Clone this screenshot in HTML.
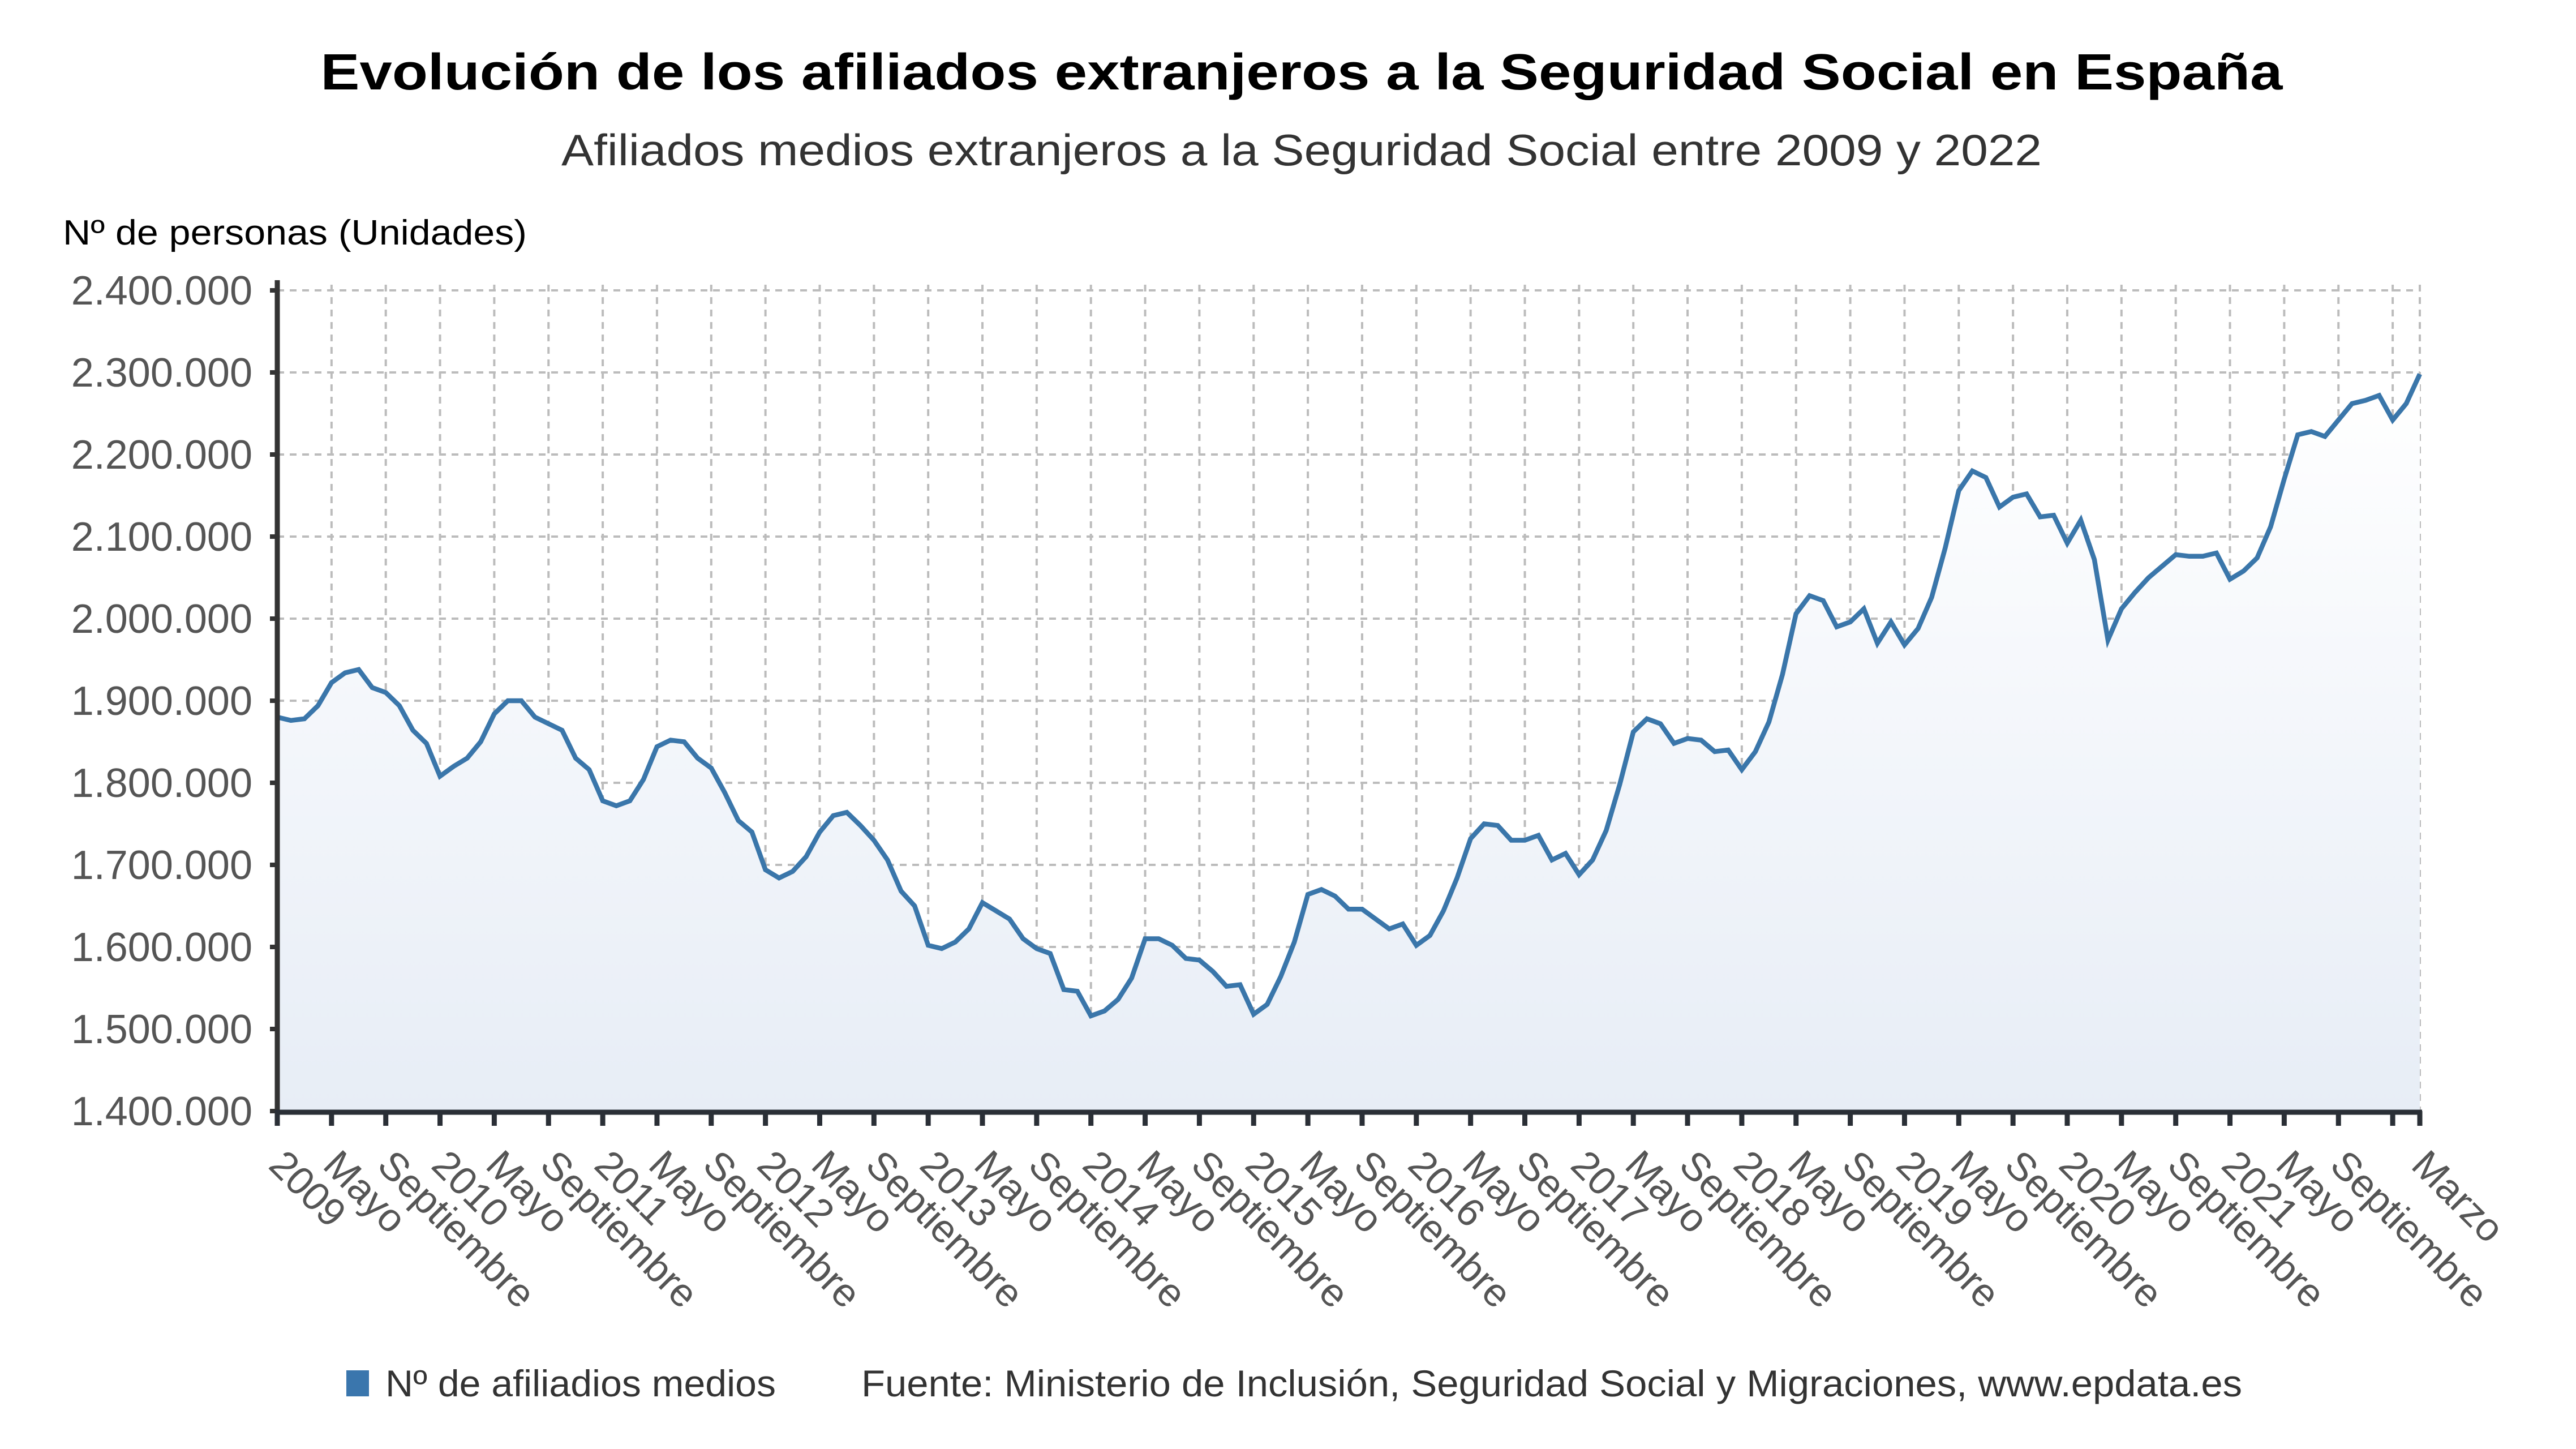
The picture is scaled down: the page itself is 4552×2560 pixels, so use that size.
<!DOCTYPE html>
<html><head><meta charset="utf-8"><style>
html,body{margin:0;padding:0;background:#fff;width:4552px;height:2560px;overflow:hidden}
svg{display:block}
</style></head><body>
<svg id="s" width="4552" height="2560" viewBox="0 0 4552 2560" xmlns="http://www.w3.org/2000/svg" font-family="'Liberation Sans', sans-serif">
<defs><linearGradient id="g" x1="0" y1="0" x2="0" y2="1"><stop offset="0" stop-color="#ffffff"/><stop offset="1" stop-color="#e7edf6"/></linearGradient></defs>
<text x="2300" y="158" text-anchor="middle" font-size="90" font-weight="bold" fill="#000" textLength="3467" lengthAdjust="spacingAndGlyphs">Evolución de los afiliados extranjeros a la Seguridad Social en España</text>
<text x="2300" y="292" text-anchor="middle" font-size="78" fill="#333" textLength="2616" lengthAdjust="spacingAndGlyphs">Afiliados medios extranjeros a la Seguridad Social entre 2009 y 2022</text>
<text x="111" y="432" font-size="62" fill="#000" textLength="820" lengthAdjust="spacingAndGlyphs">Nº de personas (Unidades)</text>
<g id="grid"></g>
<path id="area" fill="url(#g)"/>
<path id="line" fill="none" stroke="#3a76aa" stroke-width="8.5" stroke-linejoin="miter"/>
<g id="axes"></g>
<rect x="612" y="2421" width="40" height="46" fill="#3a76ad"/>
<text x="681" y="2467" font-size="66" fill="#333" textLength="690" lengthAdjust="spacingAndGlyphs">Nº de afiliadios medios</text>
<text x="1522" y="2467" font-size="66" fill="#333" textLength="2440" lengthAdjust="spacingAndGlyphs">Fuente: Ministerio de Inclusión, Seguridad Social y Migraciones, www.epdata.es</text>
</svg>
<script>
var d=[437,439,438,430,416,410,408,419,422,430,445,453,
473,467,462,452,435,427,427,437,441,445,462,469,
488,491,488,475,455,451,452,462,468,483,500,507,
530,535,531,522,507,497,495,503,512,524,543,552,
576,578,574,566,550,555,560,572,578,581,603,604,
619,616,609,596,572,572,576,584,585,592,601,600,
618,612,595,574,545,542,546,554,554,560,566,563,
576,570,555,535,511,502,503,512,512,509,524,520,
533,524,506,478,446,438,441,453,450,451,458,457,
469,458,440,411,374,363,366,382,379,371,392,379,
393,383,364,334,299,287,291,309,303,301,315,314,
331,317,341,390,371,361,352,345,338,339,339,337,
353,348,340,321,292,265,263,266,256,246,244,241,
256,246,228];
var X0=490,X1=4276,Y0=513,Y1=1963,n=d.length,dx=(X1-X0)/(n-1);
function X(i){return X0+i*dx}
function Y(v){return Y0+(v-177)*2.9}
var ns="http://www.w3.org/2000/svg";
function el(t,a,p,txt){var e=document.createElementNS(ns,t);for(var k in a)e.setAttribute(k,a[k]);if(txt)e.textContent=txt;p.appendChild(e);return e}
var g=document.getElementById('grid'),ax=document.getElementById('axes');
var pts=[];for(var i=0;i<n;i++)pts.push(X(i).toFixed(1)+','+Y(d[i]).toFixed(1));
document.getElementById('line').setAttribute('d','M'+pts.join('L'));
document.getElementById('area').setAttribute('d','M'+X0+','+Y1+'L'+pts.join('L')+'L'+X1+','+Y1+'Z');
var labs=['2009','2010','2011','2012','2013','2014','2015','2016','2017','2018','2019','2020','2021','2022'];
for(var k=0;k<=10;k++){
 var yy=Y0+k*145;
 el('line',{x1:X0,y1:yy,x2:X1,y2:yy,stroke:'#bcbcbc','stroke-width':4,'stroke-dasharray':'12,10'},g);
 var v=2400-k*100;var s=(v/1000|0)+'.'+String(v%1000).padStart(3,'0')+'.000';
 el('text',{x:446,y:yy+25,'text-anchor':'end','font-size':72,fill:'#555'},ax,s);
 el('line',{x1:477,y1:yy,x2:X0,y2:yy,stroke:'#333','stroke-width':8},ax);
}
for(var i=0;i<n;i+=4){
 el('line',{x1:X(i),y1:Y0-10,x2:X(i),y2:Y1,stroke:'#bcbcbc','stroke-width':4,'stroke-dasharray':'12,10'},g);
}
el('line',{x1:X1,y1:Y0-10,x2:X1,y2:Y1,stroke:'#bcbcbc','stroke-width':4,'stroke-dasharray':'12,10'},g);
el('line',{x1:X0,y1:495,x2:X0,y2:Y1+6,stroke:'#333','stroke-width':9},ax);
el('line',{x1:X0-4,y1:Y1+2,x2:X1+4,y2:Y1+2,stroke:'#2a2f36','stroke-width':9},ax);
function lab(i,t){
 var x=X(i);
 el('line',{x1:x,y1:Y1,x2:x,y2:Y1+26,stroke:'#2a2f36','stroke-width':9},ax);
 if(!t)return;
 var tx=x-18,ty=2062;
 el('text',{x:tx,y:ty,'font-size':70,fill:'#555',transform:'rotate(45 '+tx+' '+ty+')'},ax,t);
}
for(var i=0;i<n-1;i+=4){var m=i%12;lab(i,i==156?'':(m==0?labs[i/12]:(m==4?'Mayo':'Septiembre')));}
lab(n-1,'Marzo');
</script>
</body></html>
